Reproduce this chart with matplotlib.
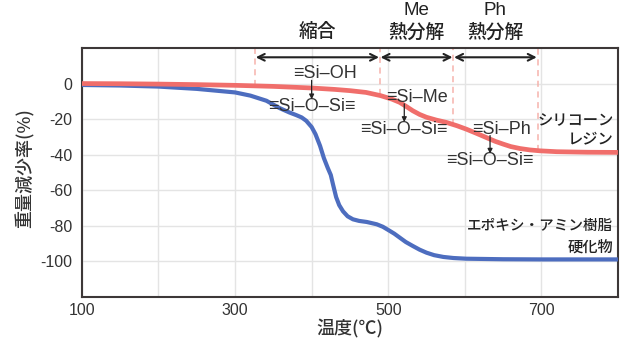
import matplotlib
matplotlib.use("Agg")
import matplotlib.pyplot as plt
import numpy as np

# --- data ---
red_x = [100, 150, 200, 250, 300, 350, 400, 430, 450, 471, 490, 505, 515, 525, 532,
         541, 550, 563, 576, 590, 602, 615, 628, 640, 650, 660, 672, 685, 698, 720, 760, 800]
red_y = [0, -0.1, -0.3, -0.6, -1.0, -1.6, -2.5, -3.3, -4.0, -5.0, -6.8, -8.8, -10.6, -13.3, -15.3,
         -17.4, -19.0, -20.6, -21.9, -23.8, -25.7, -28.0, -30.4, -32.6, -34.1, -35.5, -36.6, -37.4,
         -37.9, -38.4, -38.7, -38.8]

blue_x = [100, 150, 200, 250, 300, 320, 341, 358, 371, 380, 387, 393, 400, 405, 411, 416, 421,
          425, 428, 432, 436, 441, 447, 454, 462, 472, 485, 493, 500, 508, 515, 523, 532, 541,
          550, 560, 572, 585, 602, 650, 700, 800]
blue_y = [-0.8, -1.1, -1.7, -3.0, -5.0, -6.8, -9.7, -13.8, -16.3, -17.8, -19.1, -21.0, -24.5,
          -28.5, -35.1, -42.0, -47.5, -51.5, -57.0, -64.0, -68.5, -72.0, -74.8, -76.5, -77.4,
          -78.0, -79.3, -80.7, -82.5, -84.6, -86.8, -89.3, -91.5, -93.6, -95.3, -96.7, -97.7,
          -98.3, -98.7, -99.0, -99.1, -99.1]

stage_edges = [326, 489, 585, 695]
stage_titles = [("縮合",), ("Me", "熱分解"), ("Ph", "熱分解")]

x_ticks = [100, 300, 500, 700]
y_ticks = [0, -20, -40, -60, -80, -100]

# reactions: (from, to, arrow x, y_from, y_to, x_from)
reactions = [("≡Si–OH", "≡Si–O–Si≡", 400, 5.4, -12.9, 417),
             ("≡Si–Me", "≡Si–O–Si≡", 521, -7.8, -25.7, 538),
             ("≡Si–Ph", "≡Si–O–Si≡", 633, -25.7, -43.5, 648)]

RED = "#f06e6b"
BLUE = "#4d6dbf"
JP = ["Noto Sans CJK JP", "DejaVu Sans"]
LAT = ["Liberation Sans", "DejaVu Sans"]

fig = plt.figure(figsize=(6.4, 3.47), dpi=100)
ax = fig.add_axes([0.128, 0.1455, 0.8375, 0.716])

ax.set_xlim(100, 800)
ax.set_ylim(-120, 20)
ax.set_xticks(np.arange(100, 801, 100), minor=True)
ax.set_xticks(x_ticks)
ax.set_yticks(y_ticks)
ax.set_yticklabels(["0" if v == 0 else "-%d" % abs(v) for v in y_ticks])
ax.grid(True, which="both", axis="x", color="#e4e4e4", lw=1)
ax.grid(True, axis="y", color="#e4e4e4", lw=1)
ax.set_axisbelow(True)
ax.tick_params(which="both", length=0, labelsize=11.5, labelcolor="#333333")
ax.tick_params(axis="y", pad=7)
ax.tick_params(axis="x", pad=5)
for lab in ax.get_xticklabels() + ax.get_yticklabels():
    lab.set_family(LAT)
for s in ax.spines.values():
    s.set_color("#3d3838")
    s.set_linewidth(1.5)

# dashed stage boundaries down to the red curve
for e in stage_edges:
    yb = np.interp(e, red_x, red_y)
    ax.plot([e, e], [yb, 20], ls=(0, (4, 3)), color="#f6b3ac", lw=1.1, zorder=1)

ax.plot(blue_x, blue_y, color=BLUE, lw=3.0, solid_capstyle="butt", zorder=3)
ax.plot(red_x, red_y, color=RED, lw=3.4, solid_capstyle="butt", zorder=4)

# double arrows and titles above
for i in range(3):
    a, b = stage_edges[i], stage_edges[i + 1]
    ax.annotate("", xy=(a + 1, 14.8), xytext=(b - 1, 14.8),
                arrowprops=dict(arrowstyle="<->", color="#222222", lw=1.5,
                                mutation_scale=12, shrinkA=0, shrinkB=0),
                annotation_clip=False)
    mid = (a + b) / 2
    t = stage_titles[i]
    if len(t) == 1:
        ax.text(mid, 29.5, t[0], ha="center", va="center", fontsize=13.5,
                family=JP, weight="medium", color="#222222", clip_on=False)
    else:
        ax.text(mid, 41, t[0], ha="center", va="center", fontsize=13.5,
                family=LAT, color="#222222", clip_on=False)
        ax.text(mid, 29, t[1], ha="center", va="center", fontsize=13.5,
                family=JP, weight="medium", color="#222222", clip_on=False)

# reaction labels
for src, dst, xa, y1, y2, xs in reactions:
    ax.text(xs, y1, src, ha="center", va="center", fontsize=13, family=LAT,
            color="#333333", zorder=6)
    ax.text(xa, y2, dst, ha="center", va="center", fontsize=13, family=LAT,
            color="#333333", zorder=6)
    ax.annotate("", xy=(xa, y2 + 4.0), xytext=(xa, y1 - 3.6),
                arrowprops=dict(arrowstyle="-|>", color="#222222", lw=0.9,
                                mutation_scale=7, shrinkA=0, shrinkB=0), zorder=6)

ax.text(794, -21, "シリコーン", ha="right", va="center", fontsize=11, family=JP,
        weight="medium", color="#222222")
ax.text(794, -31.3, "レジン", ha="right", va="center", fontsize=11, family=JP,
        weight="medium", color="#222222")
ax.text(794, -80.2, "エポキシ・アミン樹脂", ha="right", va="center", fontsize=10.5, family=JP,
        weight="medium", color="#222222")
ax.text(794, -91.9, "硬化物", ha="right", va="center", fontsize=11, family=JP,
        weight="medium", color="#222222")

fig.text(25 / 640, 1 - 168 / 347, "重量減少率(%)", rotation=90, ha="center", va="center",
         fontsize=13, family=JP, weight="medium", color="#333333")
fig.text(350 / 640, 1 - 329 / 347, "温度(℃)", ha="center", va="center",
         fontsize=13, family=JP, weight="medium", color="#333333")

fig.savefig("out.png", dpi=100)
